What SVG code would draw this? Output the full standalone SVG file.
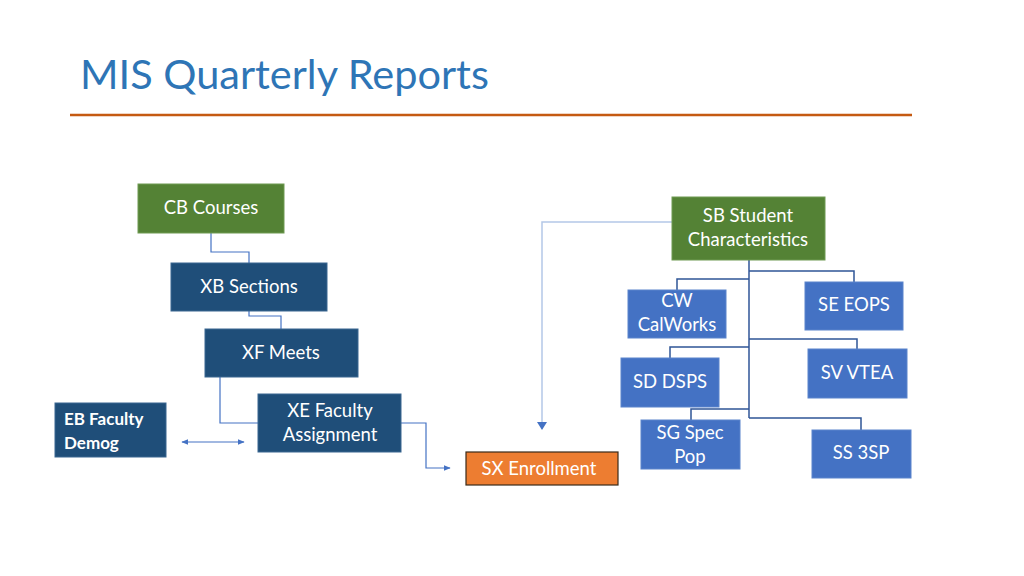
<svg xmlns="http://www.w3.org/2000/svg" width="1024" height="576" viewBox="0 0 1024 576">
<style>
text{font-family:Lato,"Open Sans","Liberation Sans",sans-serif;fill:#fff;font-size:18.5px;text-anchor:middle}
.green{fill:#548235;stroke:#6f9a52;stroke-width:1}
.dark{fill:#1f4e79;stroke:#3a6791;stroke-width:1}
.mid{fill:#4472c4;stroke:#5a84cc;stroke-width:1}
.c{fill:none;stroke:#4472c4;stroke-width:1.2}
.t{fill:none;stroke:#2f5597;stroke-width:1.5}
</style>
<defs>
<marker id="ah" viewBox="0 0 10 10" refX="9" refY="5" markerWidth="7" markerHeight="7" orient="auto-start-reverse" markerUnits="userSpaceOnUse">
<path d="M0,1 L10,5 L0,9 z" fill="#4472c4"/>
</marker>
</defs>
<rect width="1024" height="576" fill="#fff"/>
<text x="80" y="89" style="font-size:41.5px;fill:#2e75b6;text-anchor:start">MIS Quarterly Reports</text>
<line x1="70" y1="115" x2="912" y2="115" stroke="#c55a11" stroke-width="2.5"/>
<g id="connectors">
<polyline class="c" points="211,233 211,252 249,252 249,263"/>
<polyline class="c" points="249,311 249,316 281,316 281,329"/>
<polyline class="c" points="220,377 220,423 258,423"/>
<polyline class="c" points="401,423 426,423 426,468 450,468" marker-end="url(#ah)"/>
<line class="c" x1="182" y1="442" x2="244" y2="442" marker-start="url(#ah)" marker-end="url(#ah)"/>
<polyline fill="none" stroke="#b4c7e7" stroke-width="1.5" points="672,222 542,222 542,429"/>
<path d="M537,422 L542,430 L547,422 z" fill="#4472c4"/>
<polyline class="t" points="749,260 749,418"/>
<polyline class="t" points="749,271 854,271 854,282"/>
<polyline class="t" points="749,279 677,279 677,290"/>
<polyline class="t" points="749,339 857,339 857,349"/>
<polyline class="t" points="749,347 670,347 670,358"/>
<polyline class="t" points="749,409 691,409 691,420"/>
<polyline class="t" points="749,418 861,418 861,430"/>
</g>
<g id="cb"><rect class="green" x="138" y="184" width="146" height="49"/><text x="211" y="214">CB Courses</text></g>
<g id="xb"><rect class="dark" x="171" y="263" width="156" height="48"/><text x="249" y="293">XB Sections</text></g>
<g id="xf"><rect class="dark" x="205" y="329" width="153" height="48"/><text x="281" y="359">XF Meets</text></g>
<g id="xe"><rect class="dark" x="258" y="394" width="143" height="58"/><text x="330" y="417">XE Faculty</text><text x="330" y="441">Assignment</text></g>
<g id="eb"><rect class="dark" x="55" y="403" width="111" height="54"/><text x="64" y="425" style="text-anchor:start;font-weight:bold;font-size:17px">EB Faculty</text><text x="64" y="449" style="text-anchor:start;font-weight:bold;font-size:17px">Demog</text></g>
<g id="sx"><rect x="466" y="452" width="152" height="33" fill="#ed7d31" stroke="#3a2a1a" stroke-width="1.2"/><text x="539" y="475">SX Enrollment</text></g>
<g id="sb"><rect class="green" x="672" y="197" width="153" height="63"/><text x="748" y="222">SB Student</text><text x="748" y="246">Characteristics</text></g>
<g id="cw"><rect class="mid" x="628" y="290" width="98" height="48"/><text x="677" y="307">CW</text><text x="677" y="331">CalWorks</text></g>
<g id="se"><rect class="mid" x="805" y="282" width="98" height="48"/><text x="854" y="311">SE EOPS</text></g>
<g id="sd"><rect class="mid" x="621" y="358" width="98" height="49"/><text x="670" y="388">SD DSPS</text></g>
<g id="sv"><rect class="mid" x="808" y="349" width="99" height="49"/><text x="857" y="379">SV VTEA</text></g>
<g id="sg"><rect class="mid" x="641" y="420" width="99" height="49"/><text x="690" y="439">SG Spec</text><text x="690" y="463">Pop</text></g>
<g id="ss"><rect class="mid" x="812" y="430" width="99" height="48"/><text x="861" y="459">SS 3SP</text></g>
</svg>
